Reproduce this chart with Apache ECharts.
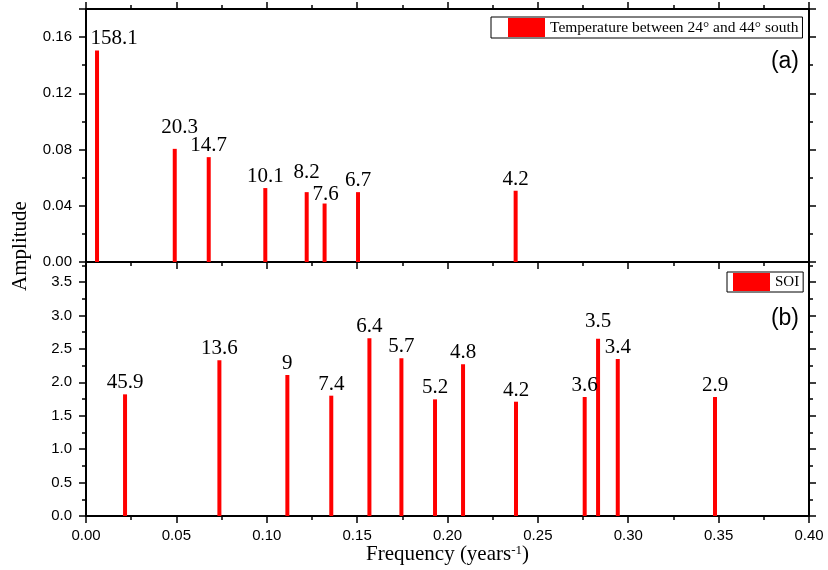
<!DOCTYPE html>
<html>
<head>
<meta charset="utf-8">
<script src="https://cdn.jsdelivr.net/npm/echarts@6/dist/echarts.min.js"></script>
<style>
    html, body { margin: 0; padding: 0; background: #fff; }
    #main { width: 828px; height: 570px; }
</style>
</head>
<body>
<div id="main"></div>
<script>
// (a) temperature between 24 and 44 south
var freqA   = [0.0061, 0.0491, 0.0679, 0.0992, 0.1221, 0.1320, 0.1505, 0.2377];
var ampA    = [0.1505, 0.0805, 0.0746, 0.0526, 0.0497, 0.0416, 0.0497, 0.0507];
var periodA = ['158.1', '20.3', '14.7', '10.1', '8.2', '7.6', '6.7', '4.2'];

// (b) SOI
var freqB   = [0.0216, 0.0738, 0.1114, 0.1357, 0.1568, 0.1745, 0.1931, 0.2086, 0.2379, 0.2759, 0.2833, 0.2942, 0.3480];
var ampB    = [1.82, 2.33, 2.11, 1.80, 2.66, 2.36, 1.745, 2.27, 1.71, 1.78, 2.65, 2.35, 1.78];
var periodB = ['45.9', '13.6', '9', '7.4', '6.4', '5.7', '5.2', '4.8', '4.2', '3.6', '3.5', '3.4', '2.9'];

// axis ranges / ticks
var xRange = [0, 0.40], xStep = 0.05;
var yRangeA = [0, 0.18], yStepA = 0.04;
var yRangeB = [0, 3.8], yStepB = 0.5;

var nameA = 'Temperature between 24\u00b0 and 44\u00b0 south';
var nameB = 'SOI';

// small label nudges so the period labels sit like the original
var nudgeA = { 0: [17, 0], 1: [5, -10], 4: [0, -8], 5: [1, 2] };
var nudgeB = { 10: [0, -6] };

var chart = echarts.init(document.getElementById('main'));

var lineStyle = { color: '#000', width: 2 };
var tickFont = { fontFamily: 'Liberation Sans', fontSize: 15, color: '#000' };
var serif = 'Liberation Serif';

function makeAxis(opts) {
    var a = {
        type: 'value',
        gridIndex: opts.grid,
        position: opts.position,
        min: opts.range[0],
        max: opts.range[1],
        interval: opts.step,
        scale: false,
        axisLine: { show: true, onZero: false, lineStyle: lineStyle },
        axisTick: { show: opts.ticks !== false, inside: false, length: 7, lineStyle: { color: '#000', width: 1.5 } },
        minorTick: { show: opts.ticks !== false, splitNumber: 2, length: 4, lineStyle: { color: '#000', width: 1.5 } },
        splitLine: { show: false },
        axisLabel: { show: false }
    };
    if (opts.labels) {
        a.axisLabel = {
            show: true,
            margin: opts.margin || 10,
            showMaxLabel: opts.showMax !== false,
            formatter: function (v) { return v.toFixed(opts.digits); }
        };
        Object.assign(a.axisLabel, tickFont);
    }
    return a;
}

function buildItems(xs, ys, nudge) {
    return xs.map(function (x, i) {
        var item = { value: [x, ys[i]] };
        if (nudge[i]) item.label = { offset: nudge[i] };
        return item;
    });
}

var option = {
    animation: false,
    backgroundColor: '#fff',
    grid: [
        { left: 86, right: 19, top: 9, bottom: 308 },
        { left: 86, right: 19, top: 262, bottom: 54 }
    ],
    xAxis: [
        makeAxis({ grid: 0, position: 'bottom', range: xRange, step: xStep }),
        makeAxis({ grid: 0, position: 'top', range: xRange, step: xStep }),
        Object.assign(makeAxis({ grid: 1, position: 'bottom', range: xRange, step: xStep, labels: true, digits: 2, margin: 12 }), {
            name: 'Frequency (years{sup|-1})',
            nameLocation: 'middle',
            nameGap: 24,
            nameTextStyle: {
                fontFamily: serif, fontSize: 21, color: '#000',
                rich: { sup: { fontFamily: serif, fontSize: 13, color: '#000', verticalAlign: 'top' } }
            }
        }),
        makeAxis({ grid: 1, position: 'top', range: xRange, step: xStep, ticks: false })
    ],
    yAxis: [
        makeAxis({ grid: 0, position: 'left', range: yRangeA, step: yStepA, labels: true, digits: 2, showMax: false, margin: 14 }),
        makeAxis({ grid: 0, position: 'right', range: yRangeA, step: yStepA }),
        makeAxis({ grid: 1, position: 'left', range: yRangeB, step: yStepB, labels: true, digits: 1, showMax: false, margin: 14 }),
        makeAxis({ grid: 1, position: 'right', range: yRangeB, step: yStepB })
    ],
    legend: [
        {
            data: [nameA], left: 491, top: 17, selectedMode: false,
            icon: 'rect', itemWidth: 37, itemHeight: 19,
            borderColor: '#000', borderWidth: 1, borderRadius: 0, backgroundColor: '#fff',
            padding: [1, 4, 1, 17],
            textStyle: { fontFamily: serif, fontSize: 15.5, color: '#000' }
        },
        {
            data: [nameB], left: 727, top: 272, selectedMode: false,
            icon: 'rect', itemWidth: 37, itemHeight: 18,
            borderColor: '#000', borderWidth: 1, borderRadius: 0, backgroundColor: '#fff',
            padding: [1, 4, 1, 6],
            textStyle: { fontFamily: serif, fontSize: 15, color: '#000' }
        }
    ],
    graphic: [
        {
            type: 'text', x: 20, y: 246, rotation: Math.PI / 2,
            style: { text: 'Amplitude', fontFamily: serif, fontSize: 21, fill: '#000', align: 'center', verticalAlign: 'middle' }
        },
        {
            type: 'text', x: 799, y: 62,
            style: { text: '(a)', fontFamily: 'Liberation Sans', fontSize: 23, fill: '#000', align: 'right', verticalAlign: 'middle' }
        },
        {
            type: 'text', x: 799, y: 319,
            style: { text: '(b)', fontFamily: 'Liberation Sans', fontSize: 23, fill: '#000', align: 'right', verticalAlign: 'middle' }
        }
    ],
    series: [
        {
            name: nameA,
            type: 'bar',
            xAxisIndex: 0,
            yAxisIndex: 0,
            barWidth: 4,
            itemStyle: { color: '#ff0000' },
            label: {
                show: true, position: 'top', distance: 1,
                fontFamily: serif, fontSize: 21, color: '#000',
                formatter: function (p) { return periodA[p.dataIndex]; }
            },
            data: buildItems(freqA, ampA, nudgeA)
        },
        {
            name: nameB,
            type: 'bar',
            xAxisIndex: 2,
            yAxisIndex: 2,
            barWidth: 4,
            itemStyle: { color: '#ff0000' },
            label: {
                show: true, position: 'top', distance: 1,
                fontFamily: serif, fontSize: 21, color: '#000',
                formatter: function (p) { return periodB[p.dataIndex]; }
            },
            data: buildItems(freqB, ampB, nudgeB)
        }
    ]
};

chart.setOption(option);
</script>
</body>
</html>
